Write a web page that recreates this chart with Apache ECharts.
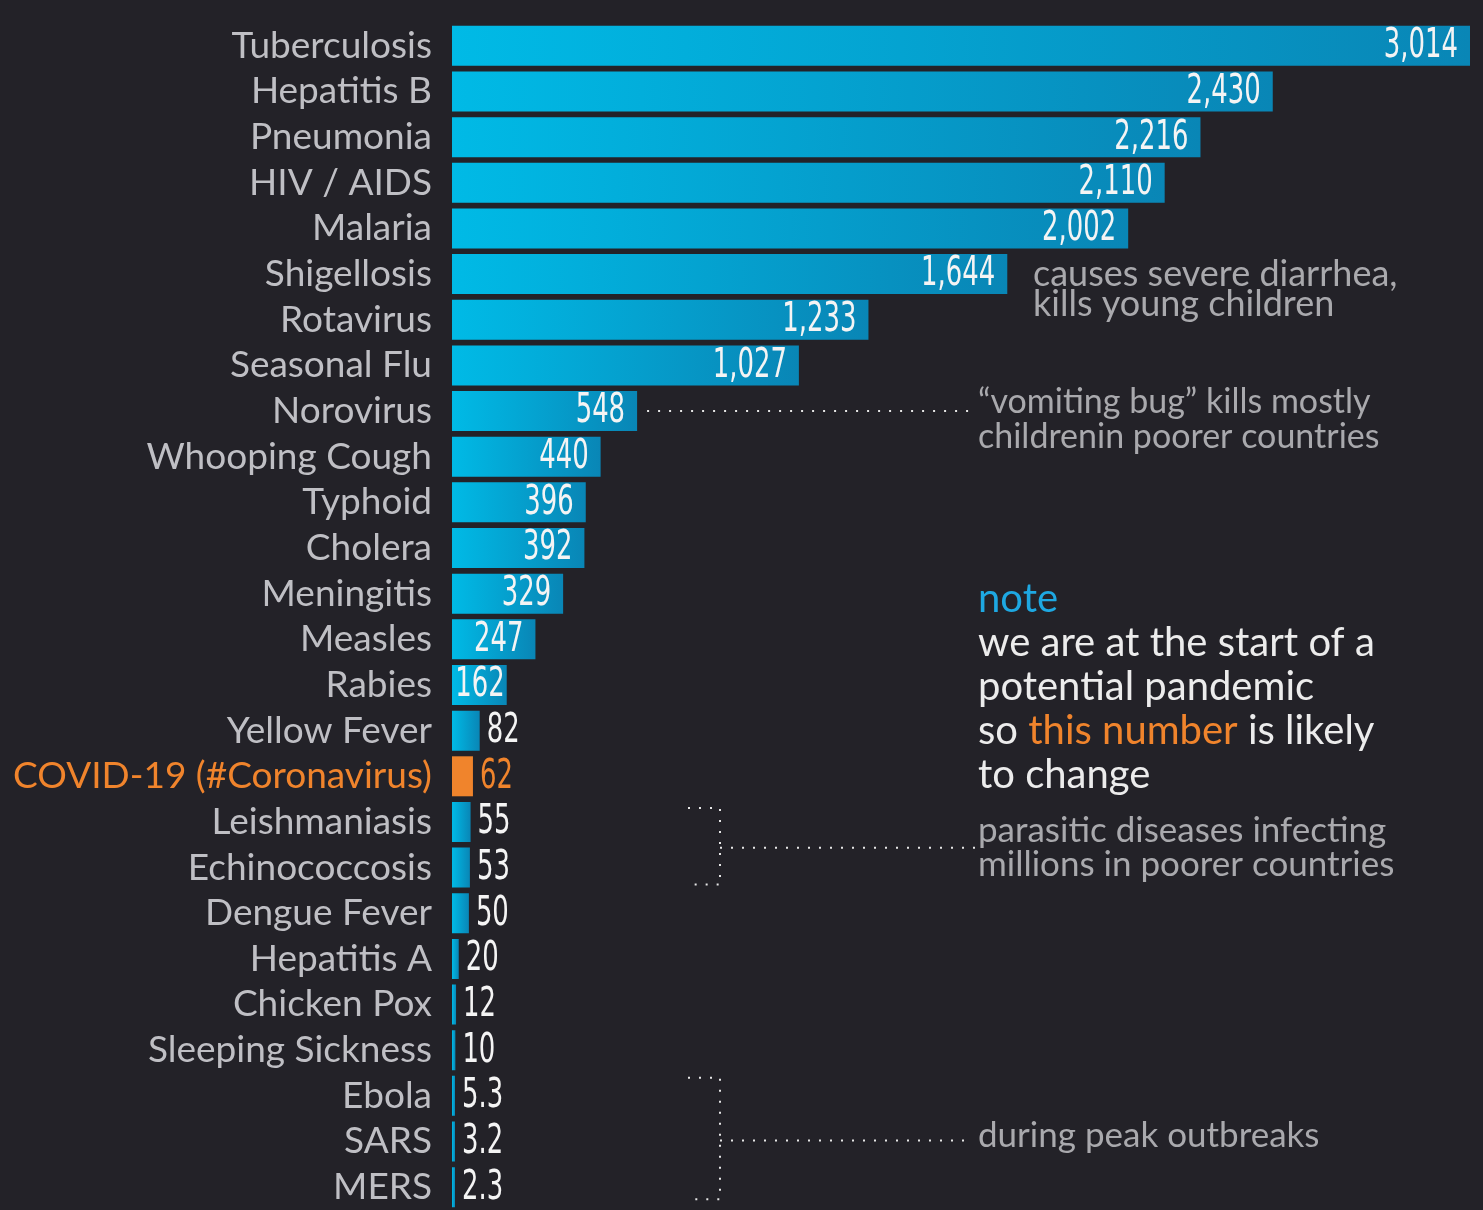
<!DOCTYPE html>
<html>
<head>
<meta charset="utf-8">
<script src="https://cdn.jsdelivr.net/npm/echarts@6/dist/echarts.min.js"></script>
<style>
html,body{margin:0;padding:0;background:#232228;}
#chart{width:1483px;height:1210px;}
</style>
</head>
<body>
<div id="chart"></div>
<script>
const categories = ["Tuberculosis","Hepatitis B","Pneumonia","HIV / AIDS","Malaria","Shigellosis","Rotavirus","Seasonal Flu","Norovirus","Whooping Cough","Typhoid","Cholera","Meningitis","Measles","Rabies","Yellow Fever","COVID-19 (#Coronavirus)","Leishmaniasis","Echinococcosis","Dengue Fever","Hepatitis A","Chicken Pox","Sleeping Sickness","Ebola","SARS","MERS"];
const values = [3014,2430,2216,2110,2002,1644,1233,1027,548,440,396,392,329,247,162,82,62,55,53,50,20,12,10,5.3,3.2,2.3];
const highlight = "COVID-19 (#Coronavirus)";

const ORANGE = '#f0842c';
const LABEL_FONT = '"DejaVu Sans Condensed","DejaVu Sans",sans-serif';
const TEXT_FONT = 'Lato, "Noto Sans", sans-serif';

function fmt(v){
  if (v >= 1000) return v.toLocaleString('en-US');
  return String(v);
}

const blueGrad = new echarts.graphic.LinearGradient(0,0,1,0,[
  {offset:0,color:'#00bae6'},{offset:1,color:'#0986b6'}
]);

const barData = values.map((v,i)=>({
  value: v,
  itemStyle: { color: categories[i] === highlight ? ORANGE : blueGrad }
}));

const labelData = values.map((v,i)=>[v, i]);

const chart = echarts.init(document.getElementById('chart'), null, {renderer:'canvas'});
chart.setOption({
  backgroundColor: '#232228',
  animation: false,
  grid: { left: 452, top: 23, width: 1018, height: 1190, containLabel: false },
  xAxis: { type: 'value', min: 0, max: 3014, show: false },
  yAxis: {
    type: 'category', inverse: true, data: categories,
    axisLine: {show:false}, axisTick: {show:false}, splitLine: {show:false},
    axisLabel: {
      interval: 0, margin: 20, fontSize: 37, fontFamily: TEXT_FONT,
      color: (val) => val === highlight ? ORANGE : '#bfbfc4'
    }
  },
  series: [{
    type: 'bar', data: barData, barWidth: 40, barMinHeight: 3,
    label: { show: false }
  }, {
    type: 'custom',
    data: labelData,
    encode: { x: 0, y: 1 },
    z: 5,
    renderItem: function(params, api){
      const v = api.value(0);
      const idx = api.value(1);
      const end = api.coord([v, idx]);
      const inside = v >= 100;
      const dist = inside ? (v < 200 ? 2 : 12) : 7;
      const isHi = categories[idx] === highlight;
      return {
        type: 'text',
        x: inside ? end[0] - dist : Math.max(end[0], api.coord([0, idx])[0] + 3) + dist,
        y: end[1] + 1,
        scaleX: 0.72,
        style: {
          text: fmt(v),
          x: 0, y: 0,
          align: inside ? 'right' : 'left',
          verticalAlign: 'middle',
          fill: isHi ? ORANGE : '#f4f4f4',
          font: '40px ' + LABEL_FONT
        }
      };
    }
  }]
});

function rowY(i){ return chart.convertToPixel({yAxisIndex:0}, categories[i]); }
const dot = { stroke:'#e6e6e6', lineWidth:2, lineDash:[2,9], fill:null };
const grey = '#a9a9ad';

const yShig = rowY(5), yNoro = rowY(8), yLei = rowY(17), yEch = rowY(18);
const yEbo = rowY(23), ySars = rowY(24), yMers = rowY(25), yMen = rowY(12);
const xNoro = chart.convertToPixel({xAxisIndex:0}, values[8]);
const yPar = (yLei + yEch) / 2 + 3;

const graphics = [
  { type:'text', left:1033, top: yShig - 18, style:{ text:'causes severe diarrhea,\nkills young children', fill:grey, font:'36px ' + TEXT_FONT, lineHeight:30 } },
  { type:'polyline', shape:{ points:[[xNoro+10,yNoro],[975,yNoro]] }, style: dot },
  { type:'text', left:978, top: yNoro - 27, style:{ text:'\u201cvomiting bug\u201d kills mostly\nchildrenin poorer countries', fill:grey, font:'34px ' + TEXT_FONT, lineHeight:35 } },
  { type:'text', left:978, top: yMen - 17, style:{
      text:'{b|note}\n{w|we are at the start of a}\n{w|potential pandemic}\n{w|so }{o|this number}{w| is likely}\n{w|to change}',
      font:'40px ' + TEXT_FONT, lineHeight:44,
      rich:{
        b:{ fill:'#1ea8e2', font:'40px ' + TEXT_FONT, lineHeight:44 },
        w:{ fill:'#ececec', font:'40px ' + TEXT_FONT, lineHeight:44 },
        o:{ fill:ORANGE, font:'40px ' + TEXT_FONT, lineHeight:44 }
      } } },
  { type:'polyline', shape:{ points:[[688,yLei-14],[720,yLei-14],[720,yEch+17],[688,yEch+17]] }, style: dot },
  { type:'polyline', shape:{ points:[[720,yPar],[975,yPar]] }, style: dot },
  { type:'text', left:978, top: yLei - 9, style:{ text:'parasitic diseases infecting\nmillions in poorer countries', fill:grey, font:'35px ' + TEXT_FONT, lineHeight:34 } },
  { type:'polyline', shape:{ points:[[688,yEbo-18],[720,yEbo-18],[720,yMers+12],[688,yMers+12]] }, style: dot },
  { type:'polyline', shape:{ points:[[720,ySars-1],[970,ySars-1]] }, style: dot },
  { type:'text', left:978, top: ySars - 1 - 22, style:{ text:'during peak outbreaks', fill:grey, font:'35px ' + TEXT_FONT } }
];
chart.setOption({ graphic: graphics });
</script>
</body>
</html>
